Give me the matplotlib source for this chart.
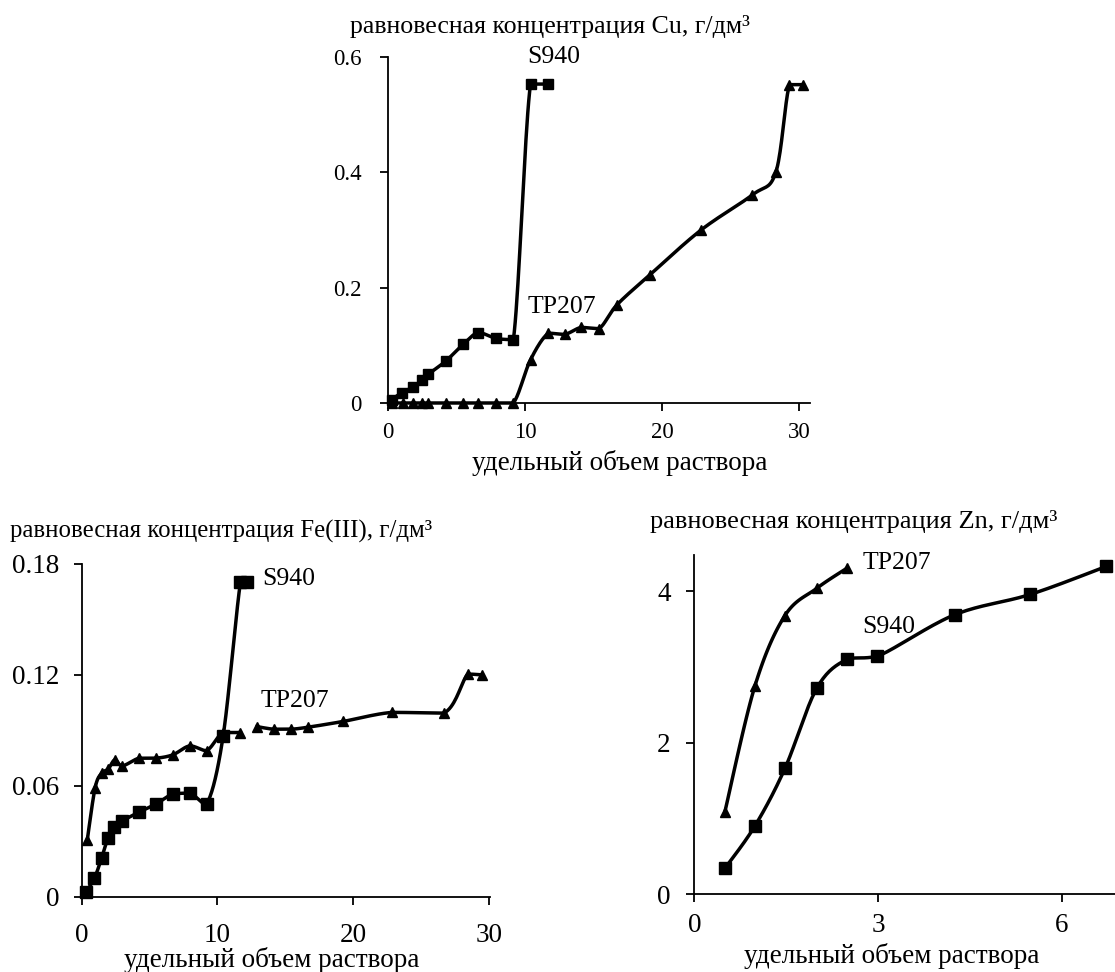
import numpy as np
import matplotlib
matplotlib.use("Agg")
import matplotlib.pyplot as plt

plt.rcParams['font.family'] = ['Liberation Serif', 'DejaVu Serif']

# Cu
cu_s940_x = [0.27, 1.0, 1.85, 2.46, 2.95, 4.23, 5.5, 6.6, 7.9, 9.15, 10.4, 11.7]
cu_s940_y = [0.006, 0.018, 0.028, 0.039, 0.050, 0.073, 0.102, 0.122, 0.112, 0.110, 0.553, 0.553]
cu_tp_x = [0.27, 1.12, 1.85, 2.46, 2.95, 4.23, 5.5, 6.6, 7.9, 9.15, 10.4, 11.7, 12.9, 14.1,
           15.4, 16.7, 19.1, 22.85, 26.6, 28.3, 29.3, 30.3]
cu_tp_y = [0, 0, 0, 0, 0, 0, 0, 0, 0, 0, 0.075, 0.121, 0.119, 0.131,
           0.129, 0.170, 0.222, 0.300, 0.361, 0.400, 0.552, 0.552]

# Fe(III)
fe_s940_x = [0.32, 0.93, 1.46, 1.95, 2.39, 3.0, 4.22, 5.44, 6.7, 7.98, 9.2, 10.42, 11.7, 12.2]
fe_s940_y = [0.0027, 0.0099, 0.0208, 0.032, 0.0376, 0.041, 0.0457, 0.050, 0.0554, 0.056,
             0.050, 0.0867, 0.170, 0.170]
fe_tp_x1 = [0.41, 0.98, 1.46, 1.95, 2.44, 3.0, 4.22, 5.44, 6.7, 7.98, 9.2, 10.41, 11.7]
fe_tp_y1 = [0.0307, 0.0587, 0.0668, 0.069, 0.074, 0.0708, 0.0749, 0.0749, 0.0767, 0.0816,
            0.079, 0.0888, 0.0888]
fe_tp_x2 = [12.93, 14.15, 15.44, 16.7, 19.27, 22.88, 26.7, 28.46, 29.5]
fe_tp_y2 = [0.092, 0.0906, 0.0906, 0.0917, 0.0948, 0.0997, 0.0993, 0.1204, 0.120]

# Zn
zn_tp_x = [0.5, 0.99, 1.48, 2.0, 2.5]
zn_tp_y = [1.09, 2.75, 3.68, 4.04, 4.31]
zn_s940_x = [0.5, 0.99, 1.48, 2.0, 2.49, 2.99, 4.25, 5.49, 6.73]
zn_s940_y = [0.34, 0.90, 1.66, 2.72, 3.10, 3.14, 3.69, 3.96, 4.33]

xlabel = "удельный объем раствора"


def smooth(x, y, xr, yr, n=20):
    # smoothed line like in Excel (bezier through the points), no overshoot past neighbours
    p = np.column_stack([np.array(x) / xr, np.array(y) / yr])
    pts = np.vstack([p[0], p, p[-1]])
    out = []
    t = np.linspace(0, 1, n)[:, None]
    for i in range(1, len(pts) - 2):
        p0, p1, p2, p3 = pts[i - 1], pts[i], pts[i + 1], pts[i + 2]
        c1 = p1 + (p2 - p0) / 6
        c2 = p2 - (p3 - p1) / 6
        lo, hi = min(p1[1], p2[1]), max(p1[1], p2[1])
        c1[1] = np.clip(c1[1], lo, hi)
        c2[1] = np.clip(c2[1], lo, hi)
        seg = ((1 - t)**3) * p1 + 3 * ((1 - t)**2) * t * c1 + 3 * (1 - t) * t**2 * c2 + t**3 * p2
        out.append(seg)
    out = np.vstack(out)
    return out[:, 0] * xr, out[:, 1] * yr


def series(ax, x, y, marker, ms, xr, yr):
    sx, sy = smooth(x, y, xr, yr)
    ax.plot(sx, sy, color="black", lw=2.5, clip_on=False, zorder=2)
    ax.plot(x, y, linestyle="none", marker=marker, color="black", ms=ms, clip_on=False, zorder=3)


def style(ax, fs, xpad, ypad):
    for s in ["top", "right"]:
        ax.spines[s].set_visible(False)
    for s in ["left", "bottom"]:
        ax.spines[s].set_linewidth(1.3)
    ax.tick_params(direction="out", length=6, width=1.3, labelsize=fs)
    ax.tick_params(axis="x", pad=xpad)
    ax.tick_params(axis="y", pad=ypad)


fig = plt.figure(figsize=(11.15, 9.72), dpi=100)

# Cu
ax1 = fig.add_axes([0.348, 0.5854, 0.3785, 0.356])
series(ax1, cu_s940_x, cu_s940_y, "s", 7, 30.8, 0.6)
series(ax1, cu_tp_x, cu_tp_y, "^", 6.5, 30.8, 0.6)
ax1.set_xlim(0, 30.8)
ax1.set_ylim(0, 0.6)
ax1.set_xticks([0, 10, 20, 30])
ax1.set_yticks([0, 0.2, 0.4, 0.6])
ax1.set_yticklabels(["0", "0.2", "0.4", "0.6"])
style(ax1, 16.5, 8, 13)
ax1.text(10.15, 0.6, "S940", fontsize=18.5, va="center")
ax1.text(10.15, 0.167, "TP207", fontsize=18.5, va="center")
fig.text(0.314, 0.973, "равновесная концентрация Cu, г/дм³", fontsize=18.6, ha="left", va="center")
fig.text(0.556, 0.524, xlabel, fontsize=19.5, ha="center", va="center")

# Fe(III)
ax2 = fig.add_axes([0.0733, 0.0775, 0.3662, 0.3423])
series(ax2, fe_s940_x, fe_s940_y, "s", 8, 30.1, 0.18)
series(ax2, fe_tp_x1, fe_tp_y1, "^", 7, 30.1, 0.18)
series(ax2, fe_tp_x2, fe_tp_y2, "^", 7, 30.1, 0.18)
ax2.set_xlim(0, 30.1)
ax2.set_ylim(0, 0.18)
ax2.set_xticks([0, 10, 20, 30])
ax2.set_yticks([0, 0.06, 0.12, 0.18])
ax2.set_yticklabels(["0", "0.06", "0.12", "0.18"])
style(ax2, 19.5, 13, 10)
ax2.text(13.3, 0.172, "S940", fontsize=18.5, va="center")
ax2.text(13.2, 0.1056, "TP207", fontsize=18.5, va="center")
fig.text(0.009, 0.453, "равновесная концентрация Fe(III), г/дм³", fontsize=17.8, ha="left", va="center")
fig.text(0.244, 0.012, xlabel, fontsize=19.5, ha="center", va="center")

# Zn
ax3 = fig.add_axes([0.6227, 0.0802, 0.3773, 0.3488])
series(ax3, zn_tp_x, zn_tp_y, "^", 7, 6.87, 4.48)
series(ax3, zn_s940_x, zn_s940_y, "s", 8, 6.87, 4.48)
ax3.set_xlim(0, 6.87)
ax3.set_ylim(0, 4.48)
ax3.set_xticks([0, 3, 6])
ax3.set_yticks([0, 2, 4])
style(ax3, 19.5, 8, 11)
ax3.text(2.74, 4.37, "TP207", fontsize=18.5, va="center")
ax3.text(2.74, 3.53, "S940", fontsize=18.5, va="center")
fig.text(0.583, 0.463, "равновесная концентрация Zn, г/дм³", fontsize=19.0, ha="left", va="center")
fig.text(0.80, 0.016, xlabel, fontsize=19.5, ha="center", va="center")

plt.savefig("out.png", dpi=100)
